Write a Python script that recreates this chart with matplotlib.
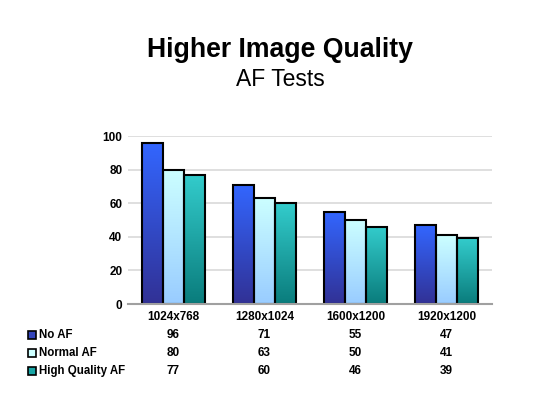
import numpy as np
import matplotlib.pyplot as plt
from matplotlib.colors import LinearSegmentedColormap
from matplotlib.patches import Rectangle

plt.rcParams['font.family'] = ['Liberation Sans', 'DejaVu Sans']
plt.rcParams['image.composite_image'] = False

# data
categories = ['1024x768', '1280x1024', '1600x1200', '1920x1200']
series = ['No AF', 'Normal AF', 'High Quality AF']
no_af = [96, 71, 55, 47]
normal_af = [80, 63, 50, 41]
hq_af = [77, 60, 46, 39]
values = [no_af, normal_af, hq_af]

# gradient colours (bottom, top) and legend swatch colour
grads = [('#313195', '#3366ff'), ('#99ccff', '#ccffff'), ('#0a7c7c', '#33cccc')]
swatch = ['#3344bb', '#ccffff', '#19a6a6']

fig = plt.figure(figsize=(5.5, 4.13), dpi=100)
ax = fig.add_axes([0.2327, 0.2639, 0.6618, 0.4068])

x = np.arange(len(categories))
w = 0.234
grad = np.linspace(0, 1, 256).reshape(-1, 1)

for i, vals in enumerate(values):
    cmap = LinearSegmentedColormap.from_list('g%d' % i, list(grads[i]))
    bars = ax.bar(x + (i - 1) * w, vals, w, facecolor='none',
                  edgecolor='black', linewidth=1.5, zorder=4)
    for b in bars:
        x0, x1 = b.get_x(), b.get_x() + b.get_width()
        im = ax.imshow(grad, cmap=cmap, origin='lower', aspect='auto',
                       interpolation='bilinear',
                       extent=[x0, x1, 0, b.get_height()], zorder=3)
        im.set_clip_path(b)

ax.set_xlim(-0.5, len(categories) - 0.5)
ax.set_ylim(0, 100)
ax.set_yticks(range(0, 101, 20))
ax.yaxis.grid(True, color='#d9d9d9', linewidth=1.2, zorder=0)
ax.set_axisbelow(True)
for s in ['left', 'right', 'top']:
    ax.spines[s].set_visible(False)
ax.spines['bottom'].set_color('#a0a0a0')
ax.spines['bottom'].set_linewidth(1.5)
ax.spines['bottom'].set_zorder(5)
ax.tick_params(length=0, labelsize=8.5)
ax.tick_params(axis='y', pad=4)
ax.tick_params(axis='x', pad=5)
ax.set_xticks(x)
ax.set_xticklabels(categories)
for t in ax.get_xticklabels() + ax.get_yticklabels():
    t.set_fontweight('bold')

# title
fig.text(0.509, 0.862, 'Higher Image Quality', ha='center', va='baseline',
         fontsize=19.2, fontweight='bold')
fig.text(0.509, 0.792, 'AF Tests', ha='center', va='baseline', fontsize=16.5)

# data table below the chart
row_y = [335, 353, 371]
for i, name in enumerate(series):
    yf = 1 - row_y[i] / 413
    fig.patches.append(Rectangle((28 / 550, yf - 4 / 413), 8 / 550, 8 / 413,
                                 transform=fig.transFigure, facecolor=swatch[i],
                                 edgecolor='black', linewidth=1.2))
    fig.text(39 / 550, yf, name, ha='left', va='center', fontsize=8.3,
             fontweight='bold')
    for xi, v in zip(x, values[i]):
        xd = ax.transData.transform((xi, 0))[0]
        xf = fig.transFigure.inverted().transform((xd, 0))[0]
        fig.text(xf, yf, str(v), ha='center', va='center', fontsize=8.5,
                 fontweight='bold')

fig.savefig('out.png', dpi=100)
